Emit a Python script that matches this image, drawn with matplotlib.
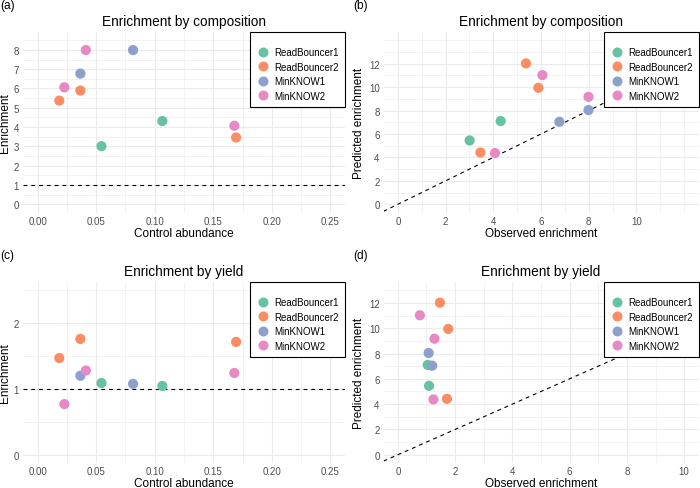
import matplotlib
matplotlib.use("Agg")
import matplotlib.pyplot as plt
from matplotlib.lines import Line2D
import numpy as np

plt.rcParams['font.family'] = ['Liberation Sans', 'DejaVu Sans']

# ---------------- data ----------------
groups = ["ReadBouncer1", "ReadBouncer2", "MinKNOW1", "MinKNOW2"]
colors = ["#66C2A5", "#FC8D62", "#8DA0CB", "#E78AC3"]

rb1_control = [0.0545, 0.1065]
rb1_comp = [3.01, 4.31]
rb1_yield = [1.09, 1.045]
rb1_pred = [5.45, 7.10]

rb2_control = [0.0185, 0.0365, 0.1695]
rb2_comp = [5.37, 5.89, 3.46]
rb2_yield = [1.47, 1.76, 1.715]
rb2_pred = [12.02, 9.94, 4.42]

mk1_control = [0.0365, 0.0815]
mk1_comp = [6.77, 7.99]
mk1_yield = [1.20, 1.077]
mk1_pred = [7.04, 8.04]

mk2_control = [0.0228, 0.0412, 0.168]
mk2_comp = [6.06, 7.99, 4.07]
mk2_yield = [0.77, 1.28, 1.243]
mk2_pred = [11.02, 9.17, 4.37]

control = [rb1_control, rb2_control, mk1_control, mk2_control]
comp = [rb1_comp, rb2_comp, mk1_comp, mk2_comp]
yld = [rb1_yield, rb2_yield, mk1_yield, mk2_yield]
pred = [rb1_pred, rb2_pred, mk1_pred, mk2_pred]

abund_ticks = [0.00, 0.05, 0.10, 0.15, 0.20, 0.25]
abund_labels = ["0.00", "0.05", "0.10", "0.15", "0.20", "0.25"]

# ---------------- figure ----------------
W, H = 700, 489
fig = plt.figure(figsize=(W / 100, H / 100), dpi=100)
fig.patch.set_facecolor("white")

def add_ax(l, t, r, b):
    return fig.add_axes([l / W, 1 - b / H, (r - l) / W, (b - t) / H])

GRID = "#EBEBEB"
TICKC = "#4D4D4D"
TICKFS = 7.0
LEGFS = 7.0
TITLEFS = 9.8
LABFS = 8.5
TAGFS = 8.6

def style(ax):
    for s in ax.spines.values():
        s.set_visible(False)
    ax.set_facecolor("white")
    ax.grid(True, which="major", color=GRID, lw=0.85, zorder=0)
    ax.grid(True, which="minor", color=GRID, lw=0.45, zorder=0)
    ax.tick_params(which="both", length=0, labelsize=TICKFS, labelcolor=TICKC)
    ax.tick_params(axis="x", pad=2.5)
    ax.tick_params(axis="y", pad=2.8)
    ax.set_axisbelow(True)

def legend(ax):
    handles = [Line2D([], [], ls="none", marker="o", ms=7.2, mfc=c, mec="none")
               for c in colors]
    leg = ax.legend(handles, groups, loc="upper right", bbox_to_anchor=(1, 1),
                    borderaxespad=0, fontsize=LEGFS, frameon=True, fancybox=False,
                    framealpha=1, edgecolor="black", borderpad=0.6,
                    handlelength=1.4, handletextpad=0.5, labelspacing=0.46,
                    title=" ", title_fontsize=3.4)
    leg.get_frame().set_linewidth(0.8)
    leg.set_zorder(10)

def scatter(ax, xs, ys):
    for xv, yv, c in zip(xs, ys, colors):
        ax.scatter(xv, yv, s=54, color=c, edgecolors="none", zorder=5)

def texts(ax, l, t, r, b, title, xlabel, ylabel, ylab_x, tag, tag_x):
    cx = (l + r) / 2 / W
    fig.text(cx, 1 - (t - 11) / H, title, ha="center", va="center", fontsize=TITLEFS)
    fig.text(cx, 1 - (b + 20.5) / H, xlabel, ha="center", va="center", fontsize=LABFS)
    fig.text(ylab_x / W, 1 - ((t + b) / 2) / H, ylabel, ha="center", va="center",
             rotation=90, fontsize=LABFS)
    fig.text(tag_x / W, 1 - (t - 26.5) / H, tag, ha="left", va="center", fontsize=TAGFS)

# ---- (a)
l, t, r, b = 23, 33, 345, 213.5
ax = add_ax(l, t, r, b)
style(ax)
scatter(ax, control, comp)
ax.axhline(1, color="black", lw=0.8, dashes=(3.5, 3.5), zorder=3)
ax.set_xlim(-0.0125, 0.2625)
ax.set_ylim(-0.425, 8.925)
ax.set_xticks(abund_ticks, abund_labels)
ax.set_xticks(np.arange(0.025, 0.25, 0.05), minor=True)
ax.set_yticks(np.arange(0, 9, 1))
ax.set_yticks(np.arange(0.5, 9, 1), minor=True)
legend(ax)
texts(ax, l, t, r, b, "Enrichment by composition", "Control abundance", "Enrichment", 5.5, "(a)", 0)

# ---- (b)
l, t, r, b = 383.5, 33, 698.5, 213.5
ax = add_ax(l, t, r, b)
style(ax)
ax.axline((0, 0), slope=1, color="black", lw=0.8, dashes=(3.5, 3.5), zorder=3)
scatter(ax, comp, pred)
ax.set_xlim(-0.6, 12.6)
ax.set_ylim(-0.7, 14.7)
ax.set_xticks(np.arange(0, 11, 2))
ax.set_xticks([1, 3, 5, 7, 9, 11, 12], minor=True)
ax.set_yticks(np.arange(0, 13, 2))
ax.set_yticks([1, 3, 5, 7, 9, 11, 13, 14], minor=True)
legend(ax)
texts(ax, l, t, r, b, "Enrichment by composition", "Observed enrichment", "Predicted enrichment", 359, "(b)", 353)

# ---- (c)
l, t, r, b = 23, 283, 345, 464
ax = add_ax(l, t, r, b)
style(ax)
scatter(ax, control, yld)
ax.axhline(1, color="black", lw=0.8, dashes=(3.5, 3.5), zorder=3)
ax.set_xlim(-0.0125, 0.2625)
ax.set_ylim(-0.125, 2.625)
ax.set_xticks(abund_ticks, abund_labels)
ax.set_xticks(np.arange(0.025, 0.25, 0.05), minor=True)
ax.set_yticks([0, 1, 2])
ax.set_yticks([0.5, 1.5, 2.5], minor=True)
legend(ax)
texts(ax, l, t, r, b, "Enrichment by yield", "Control abundance", "Enrichment", 5.5, "(c)", 0)

# ---- (d)
l, t, r, b = 383.5, 283, 698.5, 464
ax = add_ax(l, t, r, b)
style(ax)
ax.axline((0, 0), slope=1, color="black", lw=0.8, dashes=(3.5, 3.5), zorder=3)
scatter(ax, yld, pred)
ax.set_xlim(-0.5, 10.5)
ax.set_ylim(-0.65, 13.65)
ax.set_xticks(np.arange(0, 11, 2))
ax.set_xticks([1, 3, 5, 7, 9], minor=True)
ax.set_yticks(np.arange(0, 13, 2))
ax.set_yticks([1, 3, 5, 7, 9, 11, 13], minor=True)
legend(ax)
texts(ax, l, t, r, b, "Enrichment by yield", "Observed enrichment", "Predicted enrichment", 359, "(d)", 353)

fig.savefig("out.png", dpi=100, facecolor="white")
